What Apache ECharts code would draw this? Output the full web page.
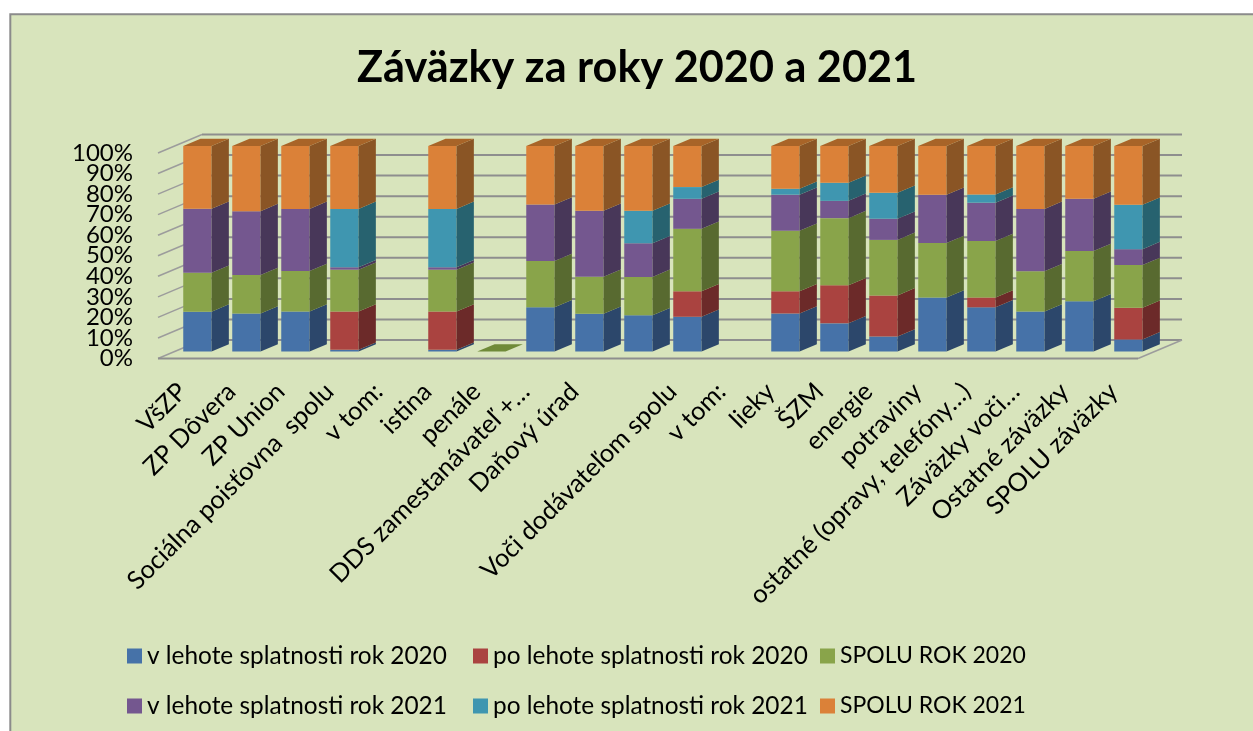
<!DOCTYPE html>
<html><head><meta charset="utf-8">
<style>html,body{margin:0;padding:0;background:#fff}#c{width:1253px;height:731px}</style>
<script src="https://cdn.jsdelivr.net/npm/echarts@6/dist/echarts.min.js"></script>
</head><body><div id="c"></div>
<script>
const categories = ['VšZP','ZP Dôvera','ZP Union','Sociálna poisťovna  spolu','v tom:','istina','penále','DDS zamestanávateľ +…','Daňový úrad','','Voči dodávateľom spolu','v tom:','lieky','ŠZM','energie','potraviny','ostatné (opravy, telefóny…)','Záväzky voči…','Ostatné záväzky','SPOLU záväzky'];
const vLehote2020 = [19.4,18.5,19.5,0.8,0,0.8,0,21.5,18.4,17.6,16.9,0,18.5,13.7,7.3,26.3,21.5,19.5,24.4,5.9];
const poLehote2020 = [0,0,0,18.7,0,18.7,0,0,0,0,12.4,0,10.8,18.5,20,0,4.8,0,0,15.4];
const spolu2020 = [18.9,18.7,19.7,20.3,0,20.3,0,22.5,18,18.7,30.4,0,29.4,32.7,27,26.5,27.5,19.5,24.5,20.8];
const vLehote2021 = [31.2,31.1,30.2,1.2,0,1.2,0,27.5,32.1,16.4,14.6,0,17.6,8.4,10.3,23.5,18.6,30.4,25.4,7.7];
const poLehote2021 = [0,0,0,28.4,0,28.4,0,0,0,15.8,5.7,0,2.9,8.8,12.6,0,4,0,0,21.6];
const spolu2021 = [30.5,31.7,30.6,30.6,0,30.6,0,28.5,31.5,31.5,20,0,20.8,17.9,22.8,23.7,23.6,30.6,25.7,28.6];
const yTicks = [0,10,20,30,40,50,60,70,80,90,100];

const seriesDefs = [
 {name:'v lehote splatnosti rok 2020', values:vLehote2020, front:'#4672a8', side:'#2c476b', top:'#3a5d88'},
 {name:'po lehote splatnosti rok 2020', values:poLehote2020, front:'#aa4340', side:'#6c2a29', top:'#8a3634'},
 {name:'SPOLU ROK 2020', values:spolu2020, front:'#89a44a', side:'#586a30', top:'#6f8a38'},
 {name:'v lehote splatnosti rok 2021', values:vLehote2021, front:'#74578f', side:'#483759', top:'#5c4672'},
 {name:'po lehote splatnosti rok 2021', values:poLehote2021, front:'#3f96b0', side:'#27626f', top:'#327a8e'},
 {name:'SPOLU ROK 2021', values:spolu2021, front:'#db8138', side:'#8a5525', top:'#a86428'}
];

const barW = 28.3, offX = 14.9, offY = 7, sideX = 17.3, sideY = 7.3;
const wallX = 44, wallY = 18.5;
const font = 'Lato, Carlito, sans-serif';

function barSeries(def, si) {
  const data = def.values.map((v, i) => {
    let start = 0;
    for (let k = 0; k < si; k++) start += seriesDefs[k].values[i];
    let total = 0;
    seriesDefs.forEach(d => total += d.values[i]);
    const isTop = (v > 0 && Math.abs(start + v - total) < 1e-6);
    const flat = (total === 0 && categories[i] === 'penále' && si === 2);
    return [i, start, start + v, isTop ? 1 : 0, flat ? 1 : 0];
  });
  return {
    type: 'custom', name: def.name, z: 3 + si, silent: true,
    itemStyle: {color: def.front},
    encode: {x: 0, y: 2},
    data,
    clip: false,
    renderItem(params, api) {
      const i = api.value(0), s = api.value(1), e = api.value(2);
      const isTop = api.value(3), flat = api.value(4);
      if (e <= s && !flat) return {type: 'group', children: []};
      const p0 = api.coord([i, s]), p1 = api.coord([i, e]);
      const x0 = p0[0] + offX - barW / 2, x1 = x0 + barW;
      const y0 = p0[1] - offY, y1 = p1[1] - offY;
      const children = [];
      const topFace = (c) => ({type: 'polygon', shape: {points: [[x0, y1], [x1, y1], [x1 + sideX, y1 - sideY], [x0 + sideX, y1 - sideY]]}, style: {fill: c}});
      if (flat) { children.push(topFace(def.top)); return {type: 'group', children}; }
      children.push({type: 'rect', shape: {x: x0, y: y1, width: barW, height: y0 - y1}, style: {fill: def.front}});
      children.push({type: 'polygon', shape: {points: [[x1, y0], [x1 + sideX, y0 - sideY], [x1 + sideX, y1 - sideY], [x1, y1]]}, style: {fill: def.side}});
      if (isTop) children.push(topFace(def.top));
      return {type: 'group', children};
    }
  };
}

const wallSeries = {
  type: 'custom', name: 'steny', z: 1, silent: true, clip: false,
  encode: {y: 0},
  data: yTicks.map(t => [t]),
  renderItem(params, api) {
    const v = api.value(0);
    const y = api.coord([0, v])[1];
    const cs = params.coordSys;
    const L = cs.x, R = cs.x + cs.width;
    const st = {stroke: '#8e8e8e', lineWidth: 2, fill: null};
    const kids = [
      {type: 'line', shape: {x1: L + wallX, y1: y - wallY, x2: R + wallX, y2: y - wallY}, style: st},
      {type: 'line', shape: {x1: L, y1: y, x2: L + wallX, y2: y - wallY}, style: {stroke: '#9c9c9c', lineWidth: 1.5}},
      {type: 'text', style: {text: v + '%', x: L - 25, y: y, align: 'right', verticalAlign: 'middle', fontFamily: font, fontSize: 24, fill: '#000'}}
    ];
    if (v === 0) {
      kids.push({type: 'line', shape: {x1: L, y1: y, x2: R, y2: y}, style: st});
      kids.push({type: 'line', shape: {x1: R, y1: y, x2: R + wallX, y2: y - wallY}, style: {stroke: '#9c9c9c', lineWidth: 1.5}});
    }
    return {type: 'group', children: kids};
  }
};

function legendCol(left, a, b, size) {
  return {left, top: 644, orient: 'vertical', padding: 0, itemGap: 26, itemWidth: 15, itemHeight: 15, icon: 'rect', selectedMode: false,
    data: [seriesDefs[a].name, seriesDefs[b].name],
    textStyle: {fontFamily: font, fontSize: size, lineHeight: 24, color: '#000'}};
}

const chart = echarts.init(document.getElementById('c'), null, {renderer: 'canvas'});
chart.setOption({
  animation: false,
  backgroundColor: '#fff',
  title: {text: 'Záväzky za roky 2020 a 2021', left: 357, top: 47, padding: 0,
    textStyle: {fontFamily: font, fontSize: 43.2, fontWeight: 'bold', color: '#000'}},
  graphic: {elements: [{type: 'rect', z: -1, silent: true,
    shape: {x: 10.3, y: 14.3, width: 1400, height: 900},
    style: {fill: '#d8e4bc', stroke: '#8b8b8b', lineWidth: 2}}]},
  legend: [legendCol(127, 0, 3, 24.4), legendCol(473, 1, 4, 24.4), legendCol(820, 2, 5, 23)],
  grid: {left: 158, top: 153, width: 980, height: 205.5, containLabel: false},
  xAxis: {type: 'category', data: categories, axisLine: {show: false}, axisTick: {show: false},
    axisLabel: {interval: 0, rotate: 45, margin: 29, fontFamily: font, fontSize: 25.4, color: '#000', hideOverlap: false}},
  yAxis: {type: 'value', min: 0, max: 100, interval: 10, splitLine: {show: false}, axisLine: {show: false}, axisTick: {show: false}, axisLabel: {show: false}},
  series: [wallSeries].concat(seriesDefs.map(barSeries))
});
</script></body></html>
